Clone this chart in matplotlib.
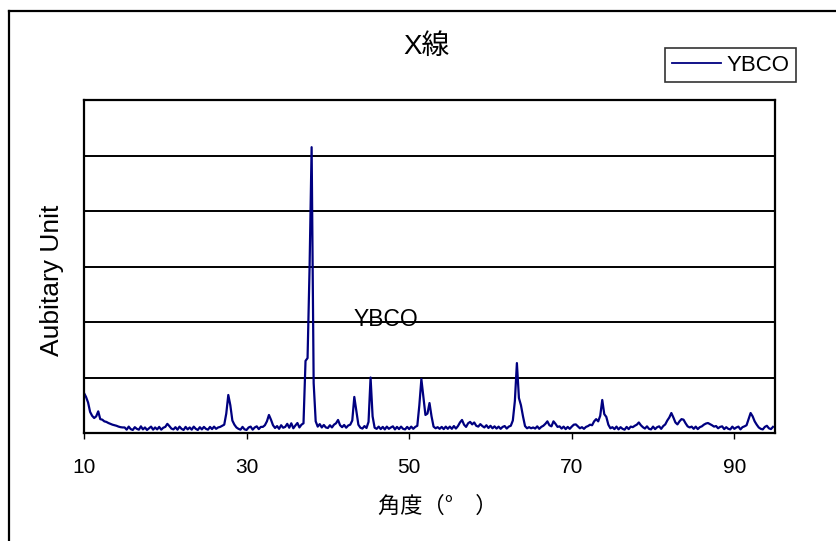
import numpy as np
import matplotlib
matplotlib.use("Agg")
import matplotlib.pyplot as plt
from matplotlib.lines import Line2D

plt.rcParams['font.family'] = ['Liberation Sans', 'Noto Sans CJK JP', 'DejaVu Sans']

# ---- data ----
angle_start, angle_step = 10.0, 0.25
intensity = [
    # 10.00 - 14.75
    1440, 1300, 1100, 760, 620, 540, 600, 780, 500, 480, 420, 400, 360, 330, 300, 280, 260, 230, 210, 200,
    # 15.00 - 19.75
    200, 120, 230, 140, 110, 210, 150, 120, 240, 130, 200, 110, 170, 230, 120, 200, 130, 220, 120, 190,
    # 20.00 - 24.75
    220, 330, 250, 160, 130, 210, 120, 230, 150, 110, 220, 130, 200, 120, 230, 150, 110, 210, 130, 220,
    # 25.00 - 29.75
    150, 120, 220, 140, 230, 150, 200, 220, 260, 300, 700, 1370, 1000, 450, 300, 200, 150, 120, 220, 130,
    # 30.00 - 34.75
    110, 200, 230, 120, 200, 240, 140, 220, 220, 280, 420, 650, 480, 280, 180, 250, 150, 280, 190, 220,
    # 35.00 - 39.75
    330, 190, 350, 170, 270, 360, 200, 300, 350, 2600, 2700, 6000, 10300, 1800, 420, 230, 320, 200, 290, 200,
    # 40.00 - 44.75
    180, 280, 200, 300, 350, 470, 280, 210, 290, 190, 270, 300, 450, 1300, 800, 300, 190, 160, 250, 180,
    # 45.00 - 49.75
    400, 2000, 600, 190, 150, 230, 140, 220, 130, 230, 150, 200, 240, 130, 220, 140, 230, 150, 130, 220,
    # 50.00 - 54.75
    140, 230, 150, 220, 260, 1000, 1940, 1300, 650, 700, 1080, 600, 230, 170, 210, 150, 220, 140, 230, 150,
    # 55.00 - 59.75
    230, 150, 250, 160, 250, 380, 470, 300, 220, 350, 400, 310, 380, 260, 230, 320, 250, 200, 280, 180,
    # 60.00 - 64.75
    260, 170, 240, 160, 230, 150, 220, 250, 160, 230, 260, 450, 1150, 2520, 1260, 1000, 600, 250, 170, 210,
    # 65.00 - 69.75
    170, 200, 160, 240, 150, 220, 260, 330, 420, 280, 240, 420, 330, 220, 240, 160, 230, 140, 220, 150,
    # 70.00 - 74.75
    230, 300, 310, 240, 170, 210, 150, 220, 250, 300, 280, 420, 500, 420, 620, 1190, 680, 580, 300, 170,
    # 75.00 - 79.75
    210, 140, 230, 130, 210, 150, 120, 220, 140, 230, 210, 260, 300, 380, 280, 210, 160, 240, 150, 130,
    # 80.00 - 84.75
    230, 140, 210, 240, 150, 250, 310, 450, 560, 720, 560, 380, 310, 420, 500, 480, 350, 240, 200, 230,
    # 85.00 - 89.75
    150, 230, 140, 210, 240, 300, 340, 360, 320, 280, 230, 250, 170, 220, 240, 140, 210, 150, 130, 230,
    # 90.00 - 94.75
    150, 200, 230, 130, 210, 240, 280, 500, 720, 600, 420, 300, 200, 150, 130, 220, 260, 170, 140, 220,
]
angle = angle_start + angle_step * np.arange(len(intensity))

series_name = "YBCO"
title = "X線"
xlabel = "角度（°　）"
ylabel = "Aubitary Unit"
xticks = [10, 30, 50, 70, 90]

# ---- figure ----
W, H = 837, 541
fig = plt.figure(figsize=(W / 100, H / 100), dpi=100)
fig.patch.set_facecolor('white')

# outer chart frame (top & left visible)
fig.add_artist(Line2D([9 / W, 1.0], [1 - 11 / H, 1 - 11 / H], color='black', lw=1.6,
                      transform=fig.transFigure))
fig.add_artist(Line2D([9 / W, 9 / W], [1 - 11 / H, 0.0], color='black', lw=1.6,
                      transform=fig.transFigure))

left, right, top, bottom = 84, 775, 100, 433
ax = fig.add_axes([left / W, 1 - bottom / H, (right - left) / W, (bottom - top) / H])
ax.plot(angle, intensity, color='#000080', lw=1.6, label=series_name)

ax.set_xlim(10, 95)
ax.set_ylim(0, 12000)
ax.set_yticks(np.arange(0, 12001, 2000))
ax.yaxis.grid(True, color='black', lw=1.4)
ax.set_axisbelow(True)
ax.tick_params(axis='y', left=False, labelleft=False)
ax.set_xticks(xticks)
ax.tick_params(axis='x', direction='out', length=4, width=1, color='black',
               labelsize=15, pad=14)
for s in ax.spines.values():
    s.set_color('black')
    s.set_linewidth(1.6)

ax.text(47.2, 4100, series_name, fontsize=16.5, ha='center', va='center')

fig.text(427 / W, 1 - 47 / H, title, fontsize=20, ha='center', va='center',
         family=['Liberation Sans', 'Noto Sans CJK JP'])
fig.text(438 / W, 1 - 506 / H, xlabel, fontsize=16, ha='center', va='center',
         family=['Noto Sans CJK JP', 'Liberation Sans'])
fig.text(52 / W, 1 - 280 / H, ylabel, fontsize=19, ha='center', va='center', rotation=90)

leg = fig.legend(handles=[Line2D([], [], color='#000080', lw=1.3)], labels=[series_name],
                 loc='upper left', bbox_to_anchor=(665 / W, 1 - 48 / H), fontsize=16,
                 frameon=True, fancybox=False, handlelength=2.2, handletextpad=0.25,
                 borderpad=0.3, borderaxespad=0)
leg.get_frame().set_edgecolor('black')
leg.get_frame().set_linewidth(1.2)

fig.savefig('out.png', dpi=100)
